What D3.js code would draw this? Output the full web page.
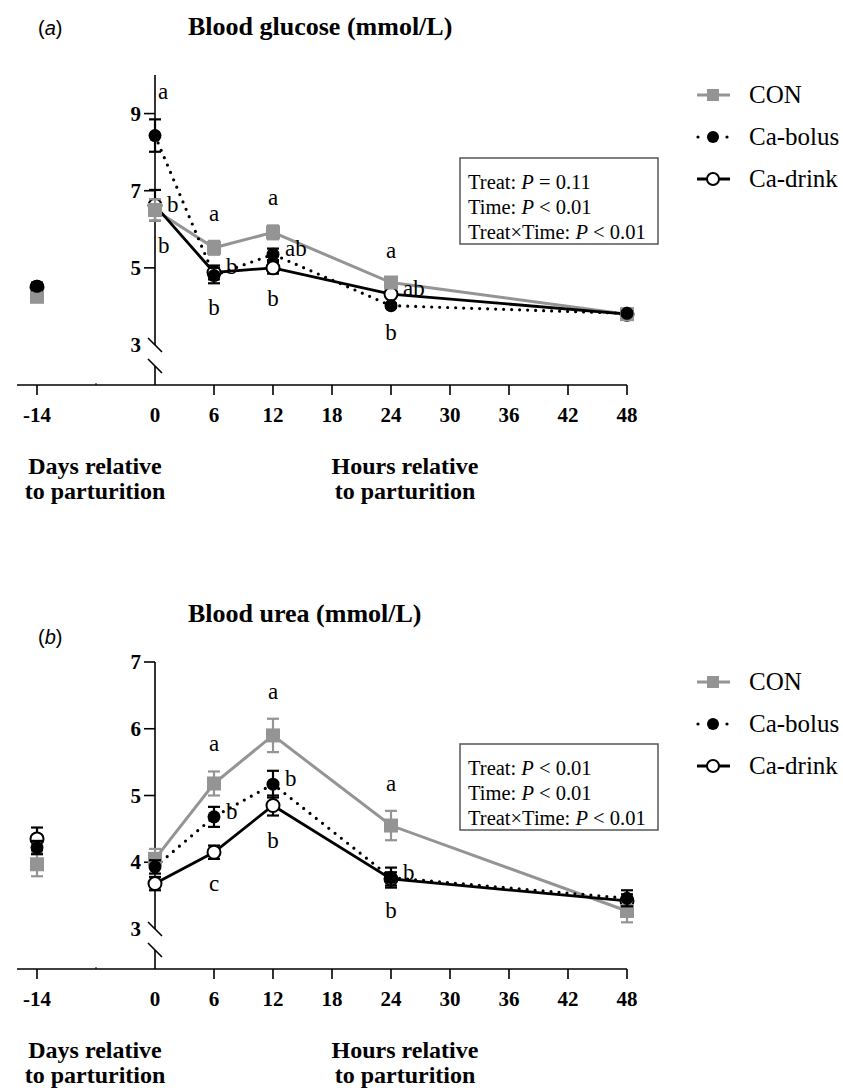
<!DOCTYPE html>
<html>
<head>
<meta charset="utf-8">
<script src="https://cdn.jsdelivr.net/npm/d3@7"></script>
<style>
  body { margin: 0; background: #fff; }
  svg { display: block; }
</style>
</head>
<body>
<svg id="chart" width="843" height="1091"></svg>
<script>
// time points: day -14 pre partum, then hours after parturition
const times = [-14, 0, 6, 12, 24, 48];
const xTicks = [0, 6, 12, 18, 24, 30, 36, 42, 48];
const seriesNames = [`CON`, `Ca-bolus`, `Ca-drink`];

// blood glucose (mmol/L)
const glucoseCON = [4.25, 6.5, 5.52, 5.92, 4.62, 3.8];
const glucoseCONse = [0.1, 0.28, 0.18, 0.18, 0.12, 0.05];
const glucoseBolus = [4.52, 8.43, 4.8, 5.35, 4.02, 3.82];
const glucoseBolusSe = [0.1, 0.42, 0.2, 0.15, 0.06, 0.05];
const glucoseDrink = [4.5, 6.62, 4.88, 5.0, 4.32, 3.8];
const glucoseDrinkSe = [0.1, 0.4, 0.18, 0.15, 0.08, 0.05];
const glucoseYTicks = [3, 5, 7, 9];
const glucoseStats = [[`Treat: `, `=`, `0.11`], [`Time: `, `<`, `0.01`], [`Treat×Time: `, `<`, `0.01`]];
const glucoseLetters = [
  {t: 0, s: 1, pos: `above`, text: `a`},
  {t: 0, s: 0, pos: `right`, text: `b`},
  {t: 0, s: 2, pos: `below`, text: `b`},
  {t: 6, s: 0, pos: `above`, text: `a`},
  {t: 6, s: 2, pos: `right`, text: `b`},
  {t: 6, s: 1, pos: `below`, text: `b`},
  {t: 12, s: 0, pos: `above`, text: `a`},
  {t: 12, s: 1, pos: `right`, text: `ab`},
  {t: 12, s: 2, pos: `below`, text: `b`},
  {t: 24, s: 0, pos: `above`, text: `a`},
  {t: 24, s: 2, pos: `right`, text: `ab`},
  {t: 24, s: 1, pos: `below`, text: `b`}
];

// blood urea (mmol/L)
const ureaCON = [3.97, 4.05, 5.18, 5.9, 4.55, 3.27];
const ureaCONse = [0.18, 0.15, 0.18, 0.25, 0.22, 0.17];
const ureaBolus = [4.22, 3.93, 4.68, 5.17, 3.77, 3.46];
const ureaBolusSe = [0.1, 0.1, 0.15, 0.2, 0.15, 0.12];
const ureaDrink = [4.35, 3.68, 4.15, 4.85, 3.75, 3.42];
const ureaDrinkSe = [0.17, 0.1, 0.1, 0.15, 0.1, 0.1];
const ureaYTicks = [3, 4, 5, 6, 7];
const ureaStats = [[`Treat: `, `<`, `0.01`], [`Time: `, `<`, `0.01`], [`Treat×Time: `, `<`, `0.01`]];
const ureaLetters = [
  {t: 6, s: 0, pos: `above`, text: `a`},
  {t: 6, s: 1, pos: `right`, text: `b`},
  {t: 6, s: 2, pos: `below`, text: `c`},
  {t: 12, s: 0, pos: `above`, text: `a`},
  {t: 12, s: 1, pos: `right`, text: `b`},
  {t: 12, s: 2, pos: `below`, text: `b`},
  {t: 24, s: 0, pos: `above`, text: `a`},
  {t: 24, s: 1, pos: `right`, text: `b`},
  {t: 24, s: 2, pos: `below`, text: `b`}
];

const serif = `Liberation Serif, Times New Roman, serif`;
const sans = `Liberation Sans, Arial, sans-serif`;
const grey = `#949494`;

const svg = d3.select(`#chart`);

// hours scale; the day -14 sample sits left of the axis break
const x = d3.scaleLinear().domain([-12, 48]).range([37, 627]);
const xPos = t => t < 0 ? x(-12) : x(t);

const drawPanel = cfg => {
  const y = d3.scaleLinear().domain([3, cfg.yMax]).range([cfg.y3, cfg.yTop]);
  const axisY = cfg.y3 + 40;
  const g = svg.append(`g`);

  // title + panel letter
  const lab = g.append(`text`)
    .attr(`x`, 38).attr(`y`, cfg.letterY)
    .attr(`font-family`, sans).attr(`font-size`, 20);
  lab.append(`tspan`).text(`(`);
  lab.append(`tspan`).attr(`font-style`, `italic`).text(cfg.letter);
  lab.append(`tspan`).text(`)`);

  g.append(`text`)
    .attr(`x`, 188).attr(`y`, cfg.titleY)
    .attr(`font-family`, serif).attr(`font-weight`, `bold`).attr(`font-size`, 26)
    .text(cfg.title);

  // y axis with break
  g.append(`line`)
    .attr(`x1`, x(0)).attr(`x2`, x(0))
    .attr(`y1`, cfg.yTop).attr(`y2`, cfg.y3)
    .attr(`stroke`, `#000`).attr(`stroke-width`, 1.6);
  g.append(`line`)
    .attr(`x1`, x(0)).attr(`x2`, x(0))
    .attr(`y1`, cfg.y3 + 21).attr(`y2`, axisY)
    .attr(`stroke`, `#000`).attr(`stroke-width`, 1.6);
  [0, 21].forEach(off => {
    g.append(`line`)
      .attr(`x1`, x(0) - 7).attr(`y1`, cfg.y3 + off - 7)
      .attr(`x2`, x(0) + 7).attr(`y2`, cfg.y3 + off + 7)
      .attr(`stroke`, `#000`).attr(`stroke-width`, 1.6);
  });

  cfg.yTicks.forEach(v => {
    if (v !== 3) {
      g.append(`line`)
        .attr(`x1`, x(0) - 11).attr(`x2`, x(0))
        .attr(`y1`, y(v)).attr(`y2`, y(v))
        .attr(`stroke`, `#000`).attr(`stroke-width`, 1.6);
    }
    g.append(`text`)
      .attr(`x`, 141).attr(`y`, y(v)).attr(`dy`, `0.34em`)
      .attr(`text-anchor`, `end`)
      .attr(`font-family`, serif).attr(`font-weight`, `bold`).attr(`font-size`, 21)
      .text(v);
  });

  // x axis
  g.append(`line`)
    .attr(`x1`, 17).attr(`x2`, x(48))
    .attr(`y1`, axisY).attr(`y2`, axisY)
    .attr(`stroke`, `#000`).attr(`stroke-width`, 1.6);
  const tickData = [{pos: -12, label: `-14`}].concat(xTicks.map(t => ({pos: t, label: `${t}`})));
  tickData.forEach(d => {
    if (d.pos !== 0) {
      g.append(`line`)
        .attr(`x1`, x(d.pos)).attr(`x2`, x(d.pos))
        .attr(`y1`, axisY).attr(`y2`, axisY + 10)
        .attr(`stroke`, `#000`).attr(`stroke-width`, 1.6);
    }
    g.append(`text`)
      .attr(`x`, x(d.pos)).attr(`y`, axisY + 37)
      .attr(`text-anchor`, `middle`)
      .attr(`font-family`, serif).attr(`font-weight`, `bold`).attr(`font-size`, 21)
      .text(d.label);
  });
  g.append(`line`)
    .attr(`x1`, x(-6)).attr(`x2`, x(-6))
    .attr(`y1`, axisY - 2).attr(`y2`, axisY)
    .attr(`stroke`, `#000`).attr(`stroke-width`, 1);

  [[95, [`Days relative`, `to parturition`]], [405, [`Hours relative`, `to parturition`]]].forEach(([cx, lines]) => {
    lines.forEach((l, i) => {
      g.append(`text`)
        .attr(`x`, cx).attr(`y`, axisY + 89 + i * 25)
        .attr(`text-anchor`, `middle`)
        .attr(`font-family`, serif).attr(`font-weight`, `bold`).attr(`font-size`, 24)
        .text(l);
    });
  });

  // series
  const series = cfg.values.map((vals, s) => ({
    s,
    pts: times.map((t, i) => ({t, v: vals[i], se: cfg.se[s][i]}))
  }));

  const line = d3.line().x(d => xPos(d.t)).y(d => y(d.v));
  const lineStyle = [
    {stroke: grey, width: 3, dash: null},
    {stroke: `#000`, width: 3.2, dash: `0 8`},
    {stroke: `#000`, width: 2.8, dash: null}
  ];
  [0, 2, 1].forEach(s => {
    const st = lineStyle[s];
    g.append(`path`)
      .datum(series[s].pts.filter(d => d.t >= 0))
      .attr(`d`, line)
      .attr(`fill`, `none`)
      .attr(`stroke`, st.stroke)
      .attr(`stroke-width`, st.width)
      .attr(`stroke-linecap`, st.dash ? `round` : `butt`)
      .attr(`stroke-dasharray`, st.dash);
  });

  // markers: drink, CON, bolus
  [2, 0, 1].forEach(s => {
    const col = s === 0 ? grey : `#000`;
    const eg = g.append(`g`).attr(`stroke`, col).attr(`stroke-width`, 2.2);
    series[s].pts.forEach(d => {
      const cx = xPos(d.t);
      eg.append(`line`).attr(`x1`, cx).attr(`x2`, cx).attr(`y1`, y(d.v + d.se)).attr(`y2`, y(d.v - d.se));
      [d.v + d.se, d.v - d.se].forEach(e => {
        eg.append(`line`).attr(`x1`, cx - 6).attr(`x2`, cx + 6).attr(`y1`, y(e)).attr(`y2`, y(e));
      });
    });
    const mg = g.append(`g`);
    series[s].pts.forEach(d => {
      const cx = xPos(d.t);
      if (s === 0) {
        mg.append(`rect`).attr(`x`, cx - 7).attr(`y`, y(d.v) - 7)
          .attr(`width`, 14).attr(`height`, 14).attr(`fill`, grey);
      } else if (s === 1) {
        mg.append(`circle`).attr(`cx`, cx).attr(`cy`, y(d.v)).attr(`r`, 6.5).attr(`fill`, `#000`);
      } else {
        mg.append(`circle`).attr(`cx`, cx).attr(`cy`, y(d.v)).attr(`r`, 6.5)
          .attr(`fill`, `#fff`).attr(`stroke`, `#000`).attr(`stroke-width`, 2);
      }
    });
  });

  // significance letters
  cfg.letters.forEach(l => {
    const p = series[l.s].pts[times.indexOf(l.t)];
    const cx = xPos(l.t);
    const t = g.append(`text`)
      .attr(`font-family`, serif).attr(`font-size`, 23)
      .text(l.text);
    if (l.pos === `above`) {
      t.attr(`x`, l.t === 0 ? cx + 3 : cx).attr(`y`, y(p.v + p.se) - 20)
        .attr(`text-anchor`, l.t === 0 ? `start` : `middle`);
    } else if (l.pos === `below`) {
      t.attr(`x`, l.t === 0 ? cx + 3 : cx).attr(`y`, y(p.v - p.se) + 32)
        .attr(`text-anchor`, l.t === 0 ? `start` : `middle`);
    } else {
      t.attr(`x`, cx + 12).attr(`y`, y(p.v) + 2).attr(`text-anchor`, `start`);
    }
  });

  // stats box
  const bx = 460, by = cfg.boxTop;
  g.append(`rect`)
    .attr(`x`, bx).attr(`y`, by).attr(`width`, 198).attr(`height`, 86)
    .attr(`fill`, `#fff`).attr(`stroke`, `#555`).attr(`stroke-width`, 1.5);
  cfg.stats.forEach((st, i) => {
    const t = g.append(`text`)
      .attr(`x`, bx + 8).attr(`y`, by + 31 + i * 25)
      .attr(`font-family`, serif).attr(`font-size`, 20.5);
    t.append(`tspan`).text(st[0]);
    t.append(`tspan`).attr(`font-style`, `italic`).text(`P`);
    t.append(`tspan`).text(` ${st[1]} ${st[2]}`);
  });

  // legend
  const ly = cfg.legendTop;
  seriesNames.forEach((name, s) => {
    const yy = ly + s * 42;
    const lg = g.append(`g`);
    if (s === 0) {
      lg.append(`line`).attr(`x1`, 697).attr(`x2`, 730).attr(`y1`, yy).attr(`y2`, yy)
        .attr(`stroke`, grey).attr(`stroke-width`, 3);
      lg.append(`rect`).attr(`x`, 707).attr(`y`, yy - 6).attr(`width`, 12).attr(`height`, 12).attr(`fill`, grey);
    } else if (s === 1) {
      [698, 727].forEach(dx => {
        lg.append(`circle`).attr(`cx`, dx).attr(`cy`, yy).attr(`r`, 1.6).attr(`fill`, `#000`);
      });
      lg.append(`circle`).attr(`cx`, 713).attr(`cy`, yy).attr(`r`, 6).attr(`fill`, `#000`);
    } else {
      lg.append(`line`).attr(`x1`, 697).attr(`x2`, 730).attr(`y1`, yy).attr(`y2`, yy)
        .attr(`stroke`, `#000`).attr(`stroke-width`, 3);
      lg.append(`circle`).attr(`cx`, 713).attr(`cy`, yy).attr(`r`, 6)
        .attr(`fill`, `#fff`).attr(`stroke`, `#000`).attr(`stroke-width`, 2);
    }
    lg.append(`text`)
      .attr(`x`, 749).attr(`y`, yy + 8)
      .attr(`font-family`, serif).attr(`font-size`, 25)
      .text(name);
  });
};

drawPanel({
  letter: `a`, letterY: 35, title: `Blood glucose (mmol/L)`, titleY: 35,
  yMax: 10, yTop: 75, y3: 345, yTicks: glucoseYTicks,
  values: [glucoseCON, glucoseBolus, glucoseDrink],
  se: [glucoseCONse, glucoseBolusSe, glucoseDrinkSe],
  letters: glucoseLetters, stats: glucoseStats,
  boxTop: 158, legendTop: 95
});

drawPanel({
  letter: `b`, letterY: 644, title: `Blood urea (mmol/L)`, titleY: 622,
  yMax: 7, yTop: 662, y3: 929, yTicks: ureaYTicks,
  values: [ureaCON, ureaBolus, ureaDrink],
  se: [ureaCONse, ureaBolusSe, ureaDrinkSe],
  letters: ureaLetters, stats: ureaStats,
  boxTop: 744, legendTop: 682
});
</script>
</body>
</html>
